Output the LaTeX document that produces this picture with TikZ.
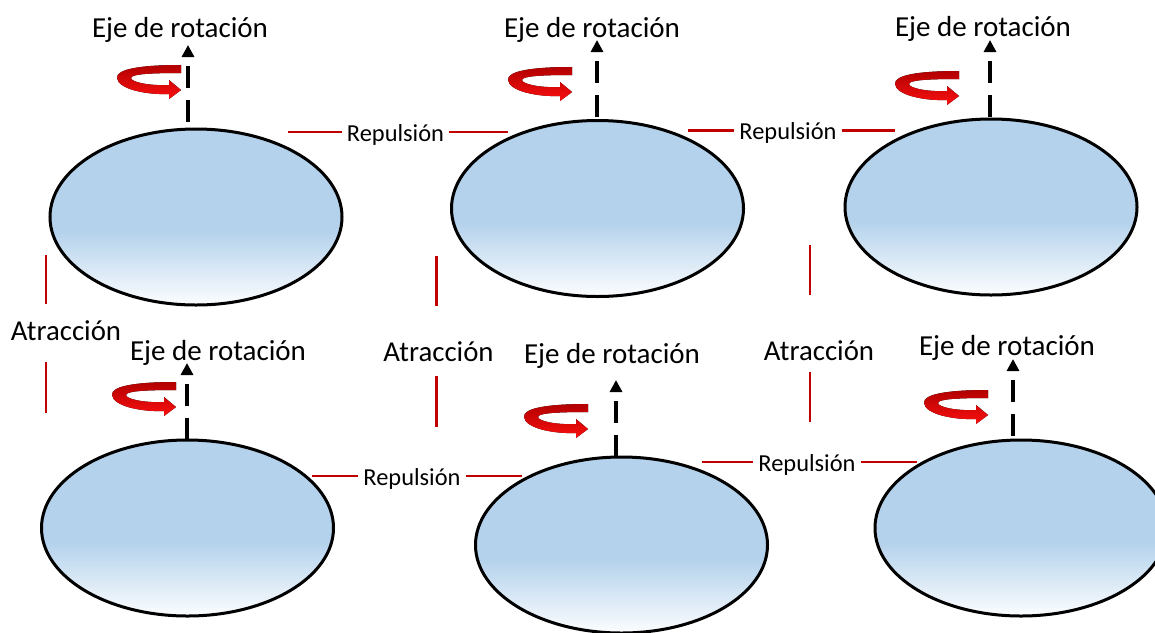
\documentclass[tikz,border=0pt]{standalone}
\usepackage{fontspec}
\setmainfont{Carlito}
\usetikzlibrary{shapes.geometric,arrows.meta}

\definecolor{ball}{RGB}{180,210,236}
\definecolor{linered}{RGB}{192,0,0}
\definecolor{rotdark}{RGB}{178,0,0}
\definecolor{rotred}{RGB}{250,16,16}
\pgfdeclareverticalshading{ballshade}{100bp}{color(0bp)=(white); color(25bp)=(white!96!ball); color(46bp)=(ball); color(100bp)=(ball)}

% red rotation arrow, #1 = right end of its upper band
\newcommand{\rotarrow}[1]{\fill[rot, shift={(#1)}] (0,0) .. controls (-40,0) and (-65,4) .. (-64,13) .. controls (-63,24) and (-35,30) .. (-12,29) -- (-12,34) -- (0,25) -- (-12,15) -- (-12,20) .. controls (-32,21) and (-50,17) .. (-50,13) .. controls (-50,9) and (-30,8) .. (0,8) -- cycle;}

\begin{document}
\begin{tikzpicture}
				[x=0.5pt, y=-0.5pt,
				main/.style = {draw, ellipse, line width=1.5pt, shade, shading=ballshade,
				minimum width=146pt, minimum height=88pt, inner sep=0pt},
				axisline/.style = {line width=2pt, dash pattern=on 11pt off 6pt, dash phase=12pt,
				>={Triangle[length=6pt,width=6pt]}, <-},
				eje/.style = {anchor=base, inner sep=0pt, font=\fontsize{14.5}{17}\selectfont},
				rep/.style = {text height=9pt, text depth=0pt, inner xsep=2.5pt, font=\fontsize{12.2}{14}\selectfont},
				att/.style = {anchor=base, inner sep=0pt, font=\fontsize{14.4}{17}\selectfont},
				redline/.style = {linered, line width=1.3pt},
				rot/.style = {top color=rotdark, bottom color=rotred}]
				\useasboundingbox (0,0) rectangle (1155,632);
				% ellipses
				\node[main] (e1) at (196, 217) {};
				\node[main] (e2) at (597.5, 208.5) {};
				\node[main] (e3) at (991, 207) {};
				\node[main] (e4) at (187.5, 528) {};
				\node[main] (e5) at (621.5, 545) {};
				\node[main] (e6) at (1021, 528) {};
				% axes of rotation
				\coordinate (t1) at (188, 45);
				\coordinate (t2) at (597, 40);
				\coordinate (t3) at (990, 40);
				\coordinate (t4) at (187, 363);
				\coordinate (t5) at (616, 380);
				\coordinate (t6) at (1013, 359);
				\draw[axisline] (t1) -- (t1 |- e1.north);
				\draw[axisline] (t2) -- (t2 |- e2.north);
				\draw[axisline] (t3) -- (t3 |- e3.north);
				\draw[axisline] (t4) -- (t4 |- e4.north);
				\draw[axisline] (t5) -- (t5 |- e5.north);
				\draw[axisline] (t6) -- (t6 |- e6.north);
				\node[eje] (ej1) at (180, 37) {Eje de rotación};
				\node[eje] (ej2) at (592, 37) {Eje de rotación};
				\node[eje] (ej3) at (983, 36) {Eje de rotación};
				\node[eje] (ej4) at (218, 360) {Eje de rotación};
				\node[eje] (ej5) at (612, 363) {Eje de rotación};
				\node[eje] (ej6) at (1007, 355) {Eje de rotación};
				\rotarrow{181,65}
				\rotarrow{572,67}
				\rotarrow{959,71}
				\rotarrow{176,382}
				\rotarrow{588,404}
				\rotarrow{988,390}
				% repulsion
				\node[rep] (r1) at (395.5, 132) {Repulsión};
				\node[rep] (r2) at (788, 130.5) {Repulsión};
				\node[rep] (r3) at (412, 476) {Repulsión};
				\node[rep] (r4) at (807, 462) {Repulsión};
				\coordinate (r1a) at (288, 132);
				\coordinate (r1b) at (508, 132);
				\coordinate (r2a) at (688, 130.5);
				\coordinate (r2b) at (895, 130.5);
				\coordinate (r3a) at (312, 476);
				\coordinate (r3b) at (522, 476);
				\coordinate (r4a) at (702, 462);
				\coordinate (r4b) at (917, 462);
				\draw[redline] (r1a) -- (r1.west);
				\draw[redline] (r1.east) -- (r1b);
				\draw[redline] (r2a) -- (r2.west);
				\draw[redline] (r2.east) -- (r2b);
				\draw[redline] (r3a) -- (r3.west);
				\draw[redline] (r3.east) -- (r3b);
				\draw[redline] (r4a) -- (r4.west);
				\draw[redline] (r4.east) -- (r4b);
				% attraction
				\node[att] (at1) at (66, 340) {Atracción};
				\node[att] (at2) at (438.5, 361) {Atracción};
				\node[att] (at3) at (819, 360) {Atracción};
				\coordinate (a1a) at (46, 255);
				\coordinate (a1b) at (46, 304);
				\coordinate (a1c) at (46, 362);
				\coordinate (a1d) at (46, 413);
				\coordinate (a2a) at (436.5, 256);
				\coordinate (a2b) at (436.5, 306);
				\coordinate (a2c) at (436.5, 376);
				\coordinate (a2d) at (436.5, 427);
				\coordinate (a3a) at (810, 245);
				\coordinate (a3b) at (810, 295);
				\coordinate (a3c) at (810, 372);
				\coordinate (a3d) at (810, 422);
				\draw[redline] (a1a) -- (a1b);
				\draw[redline] (a1c) -- (a1d);
				\draw[redline] (a2a) -- (a2b);
				\draw[redline] (a2c) -- (a2d);
				\draw[redline] (a3a) -- (a3b);
				\draw[redline] (a3c) -- (a3d);
			\end{tikzpicture}
\end{document}
